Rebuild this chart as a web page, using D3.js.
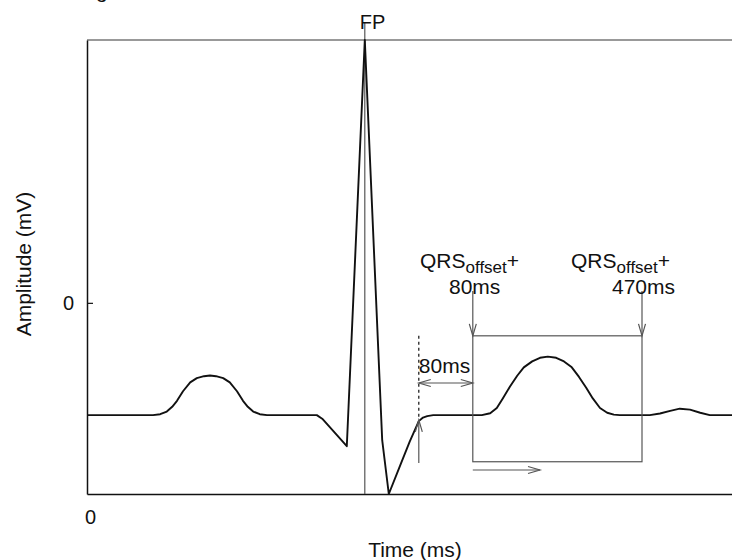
<!DOCTYPE html>
<html>
<head>
<meta charset="utf-8">
<script src="https://cdn.jsdelivr.net/npm/d3@7"></script>
<style>
  body { margin: 0; background: #fff; }
  svg { display: block; font-family: "Liberation Sans", Arial, sans-serif; }
</style>
</head>
<body>
<svg id="chart" width="732" height="560"></svg>
<script>
// schematic ECG beat
const timeMs = [0, 110, 122, 133, 142, 150, 160, 172, 183, 195, 205, 215, 227, 238, 250, 260, 268, 277, 288, 300,
  383, 392, 433, 463, 492, 503, 522, 538, 553, 560, 567, 577,
  658, 672, 683, 693, 705, 717, 728, 742, 755, 768, 782, 795, 808, 820, 832, 843, 855, 867, 878, 888,
  938, 955, 972, 988, 1005, 1022, 1038, 1075];
const amplitudeMv = [-0.47, -0.47, -0.466, -0.455, -0.435, -0.41, -0.37, -0.333, -0.315, -0.307, -0.304, -0.307, -0.315, -0.333, -0.37, -0.41, -0.435, -0.455, -0.466, -0.47,
  -0.47, -0.485, -0.6, 1.1, -0.575, -0.8, -0.68, -0.58, -0.495, -0.48, -0.474, -0.47,
  -0.47, -0.462, -0.44, -0.4, -0.35, -0.305, -0.27, -0.245, -0.23, -0.225, -0.23, -0.245, -0.27, -0.31, -0.355, -0.4, -0.44, -0.46, -0.468, -0.47,
  -0.47, -0.463, -0.452, -0.443, -0.447, -0.46, -0.47, -0.47];

const yTicks = [0];
const xTicks = [0];

// annotation markers (ms / mV)
const fpTime = 463;
const qrsOffset = 553;
const winStart = 643;
const winEnd = 925;
const winTop = -0.138;
const winBottom = -0.665;

const svg = d3.select('#chart');
const ink = '#111';
const grey = '#555';

const x = d3.scaleLinear().domain([0, 1075]).range([87, 732]);
const y = d3.scaleLinear().domain([-0.8, 1.1]).range([494, 40]);

// top frame line
svg.append('line')
  .attr('x1', x(0)).attr('x2', x(1075))
  .attr('y1', y(1.1)).attr('y2', y(1.1))
  .attr('stroke', '#777').attr('stroke-width', 1.5);

// axes
const yAxis = svg.append('g')
  .attr('transform', `translate(${x(0)},0)`)
  .call(d3.axisLeft(y).tickValues(yTicks).tickSizeInner(-6).tickSizeOuter(0).tickPadding(13).tickFormat(d3.format('d')));
const xAxis = svg.append('g')
  .attr('transform', `translate(0,${y(-0.8)})`)
  .call(d3.axisBottom(x).tickValues(xTicks).tickSize(0).tickPadding(16).tickFormat(d3.format('d')));
[yAxis, xAxis].forEach(g => {
  g.select('.domain').attr('stroke', ink).attr('stroke-width', 1.5);
  g.selectAll('.tick line').attr('stroke', ink).attr('stroke-width', 1.2);
  g.selectAll('.tick text').attr('font-size', 20).attr('fill', ink).attr('font-family', null);
});
xAxis.selectAll('.tick text').attr('dx', 3);

// axis titles
svg.append('text')
  .attr('transform', `translate(31,264) rotate(-90)`)
  .attr('text-anchor', 'middle').attr('font-size', 21).attr('fill', ink)
  .text('Amplitude (mV)');
svg.append('text')
  .attr('x', 415).attr('y', 557)
  .attr('text-anchor', 'middle').attr('font-size', 21).attr('fill', ink)
  .text('Time (ms)');

// cut-off caption remnant at the very top
svg.append('text').attr('x', 96).attr('y', -2).attr('font-size', 21).attr('fill', ink).text('g');

// FP marker
svg.append('line')
  .attr('x1', x(fpTime)).attr('x2', x(fpTime))
  .attr('y1', 23).attr('y2', y(-0.8))
  .attr('stroke', grey).attr('stroke-width', 1.2);
svg.append('text')
  .attr('x', x(fpTime) - 5).attr('y', 29)
  .attr('font-size', 20).attr('fill', ink)
  .text('FP');

// ECG trace
const line = d3.line().x((d, i) => x(timeMs[i])).y(d => y(d));
svg.append('path')
  .datum(amplitudeMv)
  .attr('d', line)
  .attr('fill', 'none')
  .attr('stroke', ink)
  .attr('stroke-width', 1.9)
  .attr('stroke-linejoin', 'round');

// open chevron arrow head; angle = direction of travel (deg)
function head(px, py, angle) {
  const a = angle * Math.PI / 180, len = 12, w = 3.5;
  const bx = px - len * Math.cos(a), by = py - len * Math.sin(a);
  const nx = -Math.sin(a) * w, ny = Math.cos(a) * w;
  svg.append('path')
    .attr('d', `M${bx + nx},${by + ny}L${px},${py}L${bx - nx},${by - ny}`)
    .attr('fill', 'none').attr('stroke', grey).attr('stroke-width', 1.2);
}
function seg(x1, y1, x2, y2, dash) {
  svg.append('line')
    .attr('x1', x1).attr('y1', y1).attr('x2', x2).attr('y2', y2)
    .attr('stroke', dash ? ink : grey).attr('stroke-width', 1.2)
    .attr('stroke-dasharray', dash ? '3,3' : null);
}

// QRS offset marker: dashed line plus upward arrow
seg(x(qrsOffset), y(winTop), x(qrsOffset), y(-0.485), true);
seg(x(qrsOffset), y(-0.49), x(qrsOffset), y(-0.67));
head(x(qrsOffset), y(-0.49), -90);

// 80ms double arrow
const arrowY = 383;
seg(x(qrsOffset), arrowY, x(winStart), arrowY);
head(x(qrsOffset), arrowY, 180);
head(x(winStart), arrowY, 0);
svg.append('text').attr('x', x(qrsOffset)).attr('y', 373)
  .attr('font-size', 21).attr('fill', ink).text('80ms');

// search window box
svg.append('rect')
  .attr('x', x(winStart)).attr('y', y(winTop))
  .attr('width', x(winEnd) - x(winStart)).attr('height', y(winBottom) - y(winTop))
  .attr('fill', 'none').attr('stroke', grey).attr('stroke-width', 1.2);

// down arrows into the box
[winStart, winEnd].forEach(t => {
  seg(x(t), 291, x(t), y(winTop));
  head(x(t), y(winTop), 90);
});

// search direction arrow
seg(x(winStart), 470, x(755), 470);
head(x(755), 470, 0);

// window labels
function qrsLabel(lx, ly, second, sx) {
  const t = svg.append('text').attr('x', lx).attr('y', ly).attr('font-size', 21).attr('fill', ink);
  t.append('tspan').text('QRS');
  t.append('tspan').attr('dy', 5).attr('font-size', 17).text('offset');
  t.append('tspan').attr('dy', -5).text('+');
  svg.append('text').attr('x', sx).attr('y', ly + 26).attr('font-size', 21).attr('fill', ink).text(second);
}
qrsLabel(420, 268, '80ms', 449);
qrsLabel(571, 268, '470ms', 612);
</script>
</body>
</html>
